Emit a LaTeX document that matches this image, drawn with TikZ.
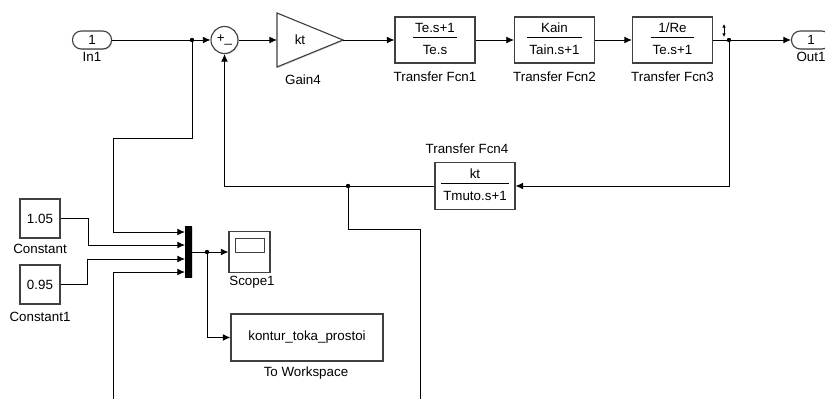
\documentclass[tikz,border=0pt]{standalone}
\usepackage{fontspec}
\setmainfont{Liberation Sans}
\usetikzlibrary{arrows.meta,shadows}

\tikzset{
  block/.style={draw=black!75, line width=0.8pt, fill=white, inner sep=0pt,
    drop shadow={shadow xshift=0.7pt, shadow yshift=-0.7pt, opacity=0.3}},
  port/.style={block, rounded corners=0.22cm, minimum width=0.975cm, minimum height=0.45cm},
  tfbox/.style={block, minimum width=2cm, minimum height=1.15cm},
  lbl/.style={inner sep=0pt},
  sig/.style={line width=0.6pt, -{Latex[length=0.19cm,width=0.17cm]}},
  wire/.style={line width=0.6pt},
  jdot/.style={circle, fill=black, inner sep=0pt, minimum size=0.11cm},
}

\newcommand{\tfn}[2]{\begin{tabular}{@{\hspace{1.5pt}}c@{\hspace{1.5pt}}}#1\\\hline\rule{0pt}{12pt}#2\end{tabular}}

\begin{document}
\begin{tikzpicture}[x=0.025cm, y=-0.025cm, font=\fontsize{9.5}{11}\selectfont]

\useasboundingbox (0,0) rectangle (825,399);

% Forward path
\node[port] (in1) at (92,40) {1};
\node[lbl] (in1l) at (92,57) {In1};

\node[block, circle, minimum size=0.675cm] (sum) at (224.5,40) {+\_};

\coordinate (gainin) at (277,40);
\coordinate (gainout) at (343,40);
\draw[block] (277,13) -- (gainout) -- (277,67) -- cycle;
\node (gaink) at (300,40) {kt};
\node[lbl] (gainl) at (303,80) {Gain4};

\node[tfbox] (tf1) at (435,40) {\tfn{Te.s+1}{Te.s}};
\node[lbl] (tf1l) at (435,77) {Transfer Fcn1};

\node[tfbox] (tf2) at (554.5,40) {\tfn{Kain}{Tain.s+1}};
\node[lbl] (tf2l) at (554.5,77) {Transfer Fcn2};

\node[tfbox] (tf3) at (672.5,40) {\tfn{1/Re}{Te.s+1}};
\node[lbl] (tf3l) at (672.5,77) {Transfer Fcn3};

\node[port] (out1) at (811,40) {1};
\node[lbl] (out1l) at (811,57) {Out1};

\draw[{Latex[length=2.5pt,width=2.5pt]}-{Latex[length=2.5pt,width=2.5pt]}, line width=0.5pt]
(724,24) -- (724,37);

\node[jdot] (d1) at (192,40) {};
\node[jdot] (d2) at (729,40) {};

\draw[sig] (in1.east) -- (sum.west);
\draw[sig] (sum.east) -- (gainin);
\draw[sig] (gainout) -- (tf1.west);
\draw[sig] (tf1.east) -- (tf2.west);
\draw[sig] (tf2.east) -- (tf3.west);
\draw[sig] (tf3.east) -- (out1.west);

% Feedback
\node[tfbox, minimum height=1.175cm] (tf4) at (475,186) {\tfn{kt}{Tmuto.s+1}};
\node[lbl] (tf4l) at (467,149) {Transfer Fcn4};

\node[jdot] (d3) at (348,186) {};
\coordinate (bot2) at (420,399);

\draw[sig] (d2.center) |- (tf4.east);
\draw[sig] (tf4.west) -| (sum.south);
\draw[wire] (d3.center) -- ++(0,43) -| (bot2);

% Constants and mux
\node[block, minimum width=1cm, minimum height=0.975cm] (c1) at (40,218.5) {1.05};
\node[lbl] (c1l) at (40,249) {Constant};

\node[block, minimum width=1cm, minimum height=0.975cm] (c2) at (40,284.5) {0.95};
\node[lbl] (c2l) at (40,317) {Constant1};

\node[fill=black, inner sep=0pt, minimum width=0.175cm, minimum height=1.275cm,
drop shadow={shadow xshift=0.7pt, shadow yshift=-0.7pt, opacity=0.3}] (mux) at (188.5,252) {};
\coordinate (mi1) at (185,232);
\coordinate (mi2) at (185,245);
\coordinate (mi3) at (185,259);
\coordinate (mi4) at (185,272);
\coordinate (bot1) at (113,399);

\draw[sig] (d1.center) -- (192,138) -- (113,138) |- (mi1);
\draw[sig] (c1.east) -- ++(28,0) |- (mi2);
\draw[sig] (c2.east) -- ++(27,0) |- (mi3);
\draw[sig] (bot1) |- (mi4);

% Outputs
\node[block, minimum size=1.025cm] (scope) at (249.5,252) {};
\draw[draw=black!75, line width=0.7pt]
([shift={(-14,-14)}]scope.center) rectangle ([shift={(15,0)}]scope.center);
\node[lbl] (scopel) at (252,282) {Scope1};

\node[block, minimum width=3.8cm, minimum height=1.175cm] (tows) at (307,337.5) {kontur\_toka\_prostoi};
\node[lbl] (towsl) at (306,373) {To Workspace};

\node[jdot] (d4) at (207,252) {};

\draw[sig] (mux.east) -- (scope.west);
\draw[sig] (d4.center) |- (tows.west);

\end{tikzpicture}
\end{document}
